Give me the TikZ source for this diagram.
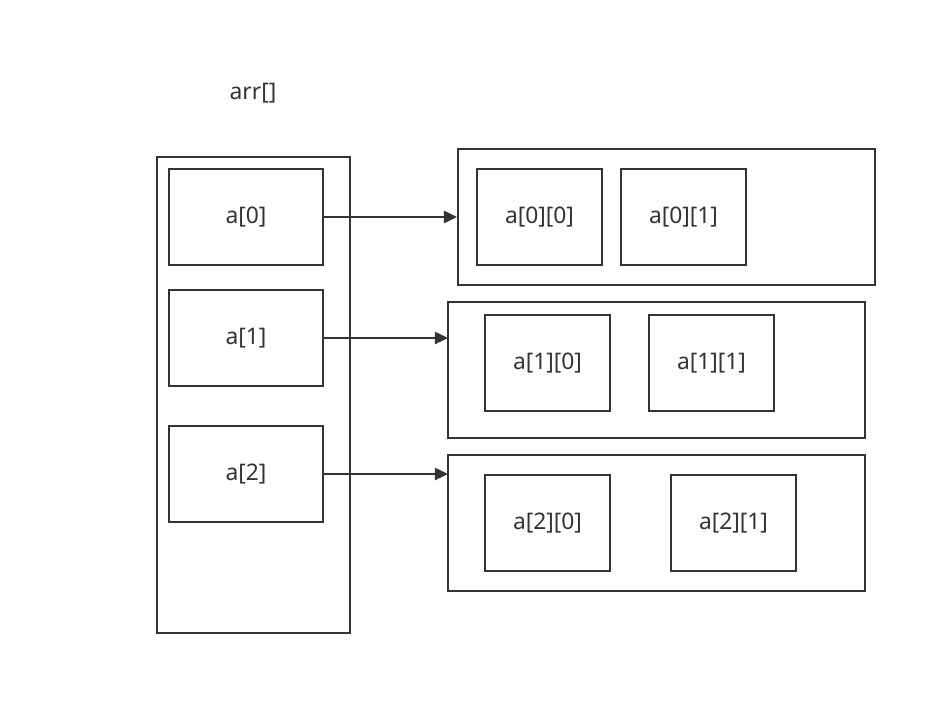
\documentclass[tikz,border=0pt]{standalone}
\usepackage{fontspec}
\setmainfont{Noto Sans}
\usetikzlibrary{arrows.meta}
\definecolor{ink}{HTML}{333333}
\begin{document}
\begin{tikzpicture}[x=0.02cm,y=-0.02cm,
  box/.style={draw=ink,line width=1.1pt,inner sep=0pt,text=ink,
    font=\fontsize{13}{15}\selectfont},
  ptr/.style={draw=ink,line width=1.1pt,-{Triangle[length=7.5pt,width=7pt]}}]
\useasboundingbox (0,0) rectangle (940,712);
\node[text=ink,font=\fontsize{13}{15}\selectfont] (lbl) at (253,93) {arr[]};
% pointer array
\node[box,minimum width=193*0.02cm,minimum height=476*0.02cm] (arr) at (253.5,395) {};
\node[box,minimum width=154*0.02cm,minimum height=96*0.02cm] (p0) at (246,217) {a[0]};
\node[box,minimum width=154*0.02cm,minimum height=96*0.02cm] (p1) at (246,338) {a[1]};
\node[box,minimum width=154*0.02cm,minimum height=96*0.02cm] (p2) at (246,474) {a[2]};
% rows
\node[box,minimum width=417*0.02cm,minimum height=136*0.02cm] (r0) at (666.5,217) {};
\node[box,minimum width=417*0.02cm,minimum height=136*0.02cm] (r1) at (656.5,370) {};
\node[box,minimum width=417*0.02cm,minimum height=136*0.02cm] (r2) at (656.5,523) {};
\node[box,minimum width=125*0.02cm,minimum height=96*0.02cm] (e00) at (539.5,217) {a[0][0]};
\node[box,minimum width=125*0.02cm,minimum height=96*0.02cm] (e01) at (683.5,217) {a[0][1]};
\node[box,minimum width=125*0.02cm,minimum height=96*0.02cm] (e10) at (547.5,363) {a[1][0]};
\node[box,minimum width=125*0.02cm,minimum height=96*0.02cm] (e11) at (711.5,363) {a[1][1]};
\node[box,minimum width=125*0.02cm,minimum height=96*0.02cm] (e20) at (547.5,523) {a[2][0]};
\node[box,minimum width=125*0.02cm,minimum height=96*0.02cm] (e21) at (733.5,523) {a[2][1]};
\coordinate (t1) at (448,338);
\coordinate (t2) at (448,474);
\draw[ptr] (p0.east) -- (r0.west);
\draw[ptr] (p1.east) -- (t1);
\draw[ptr] (p2.east) -- (t2);
\end{tikzpicture}
\end{document}
